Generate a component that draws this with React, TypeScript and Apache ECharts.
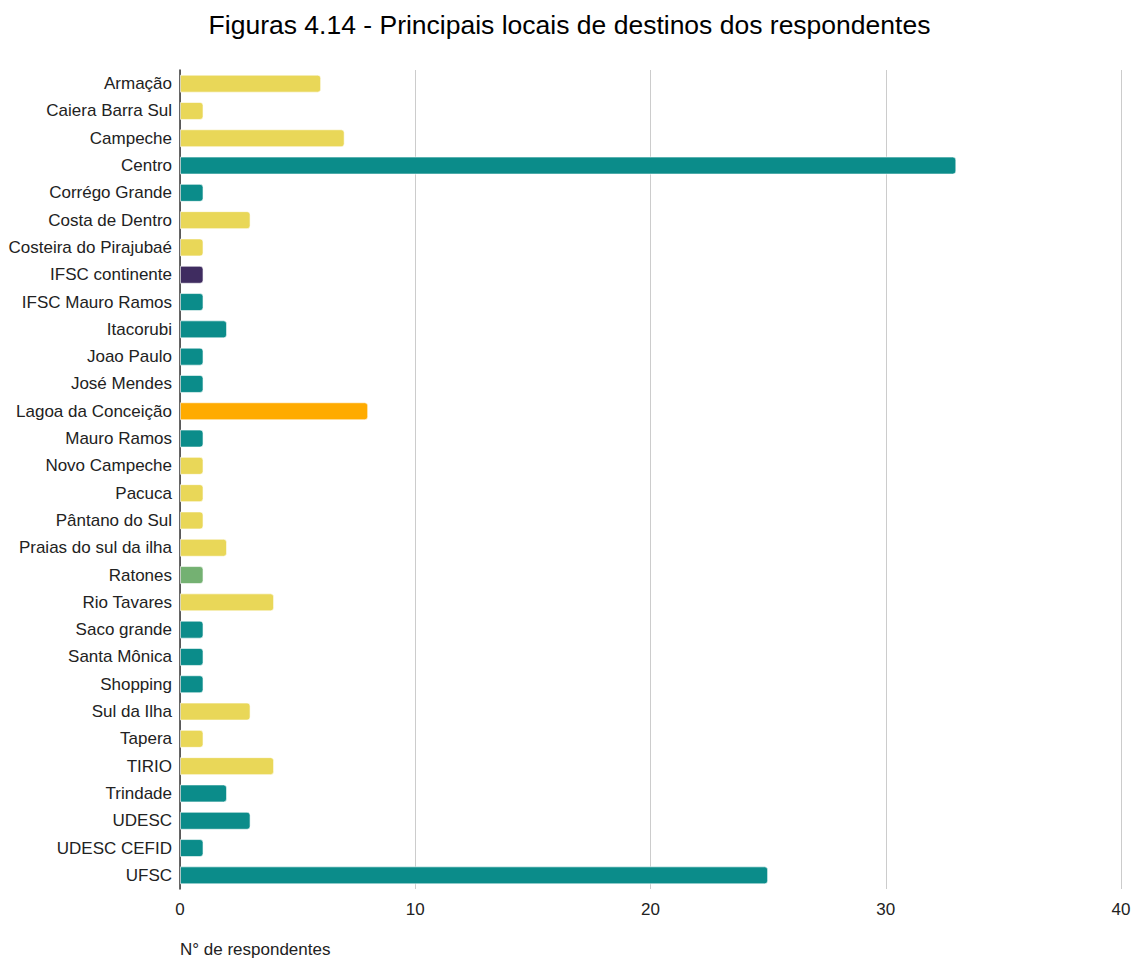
import React, { useEffect, useRef } from "react";
import * as echarts from "echarts";

const categories = [
  "Armação", "Caiera Barra Sul", "Campeche", "Centro", "Corrégo Grande", "Costa de Dentro",
  "Costeira do Pirajubaé", "IFSC continente", "IFSC Mauro Ramos", "Itacorubi", "Joao Paulo",
  "José Mendes", "Lagoa da Conceição", "Mauro Ramos", "Novo Campeche", "Pacuca", "Pântano do Sul",
  "Praias do sul da ilha", "Ratones", "Rio Tavares", "Saco grande", "Santa Mônica", "Shopping",
  "Sul da Ilha", "Tapera", "TIRIO", "Trindade", "UDESC", "UDESC CEFID", "UFSC",
];
const values = [6, 1, 7, 33, 1, 3, 1, 1, 1, 2, 1, 1, 8, 1, 1, 1, 1, 2, 1, 4, 1, 1, 1, 3, 1, 4, 2, 3, 1, 25];
// color group per category: y = yellow, t = teal, p = purple, o = orange, g = green
const groups = [
  "y", "y", "y", "t", "t", "y", "y", "p", "t", "t", "t", "t", "o", "t", "y", "y", "y", "y", "g", "y",
  "t", "t", "t", "y", "y", "y", "t", "t", "t", "t",
];
const palette: Record<string, string> = {
  y: "#E9D758",
  t: "#0B8C8A",
  p: "#3F2C60",
  o: "#FFAB00",
  g: "#74B172",
};
const xTicks = [0, 10, 20, 30, 40];

export default function App() {
  const ref = useRef<HTMLDivElement>(null);
  useEffect(() => {
    if (!ref.current) return;
    const chart = echarts.init(ref.current, undefined, { renderer: "svg" });
    const font = "'Liberation Sans', Arial, sans-serif";
    chart.setOption({
      animation: false,
      backgroundColor: "#ffffff",
      title: {
        text: "Figuras 4.14 - Principais locais de destinos dos respondentes",
        left: "center",
        top: 6,
        textStyle: { fontFamily: font, fontSize: 26.5, fontWeight: "normal", color: "#000" },
      },
      grid: { left: 180, right: 18, top: 70, bottom: 70, containLabel: false },
      xAxis: {
        type: "value",
        min: xTicks[0],
        max: xTicks[xTicks.length - 1],
        interval: 10,
        axisLine: { show: false },
        axisTick: { show: false },
        splitLine: { show: true, lineStyle: { color: "#cccccc", width: 1 } },
        axisLabel: { fontFamily: font, fontSize: 17, color: "#222", margin: 12 },
      },
      yAxis: {
        type: "category",
        inverse: true,
        data: categories,
        axisLine: { show: true, lineStyle: { color: "#333", width: 1.5 } },
        axisTick: { show: false },
        axisLabel: { fontFamily: font, fontSize: 17, color: "#222", margin: 8 },
      },
      graphic: [
        {
          type: "text",
          left: 180,
          top: 941,
          style: { text: "N° de respondentes", fontFamily: font, fontSize: 17, fill: "#222" },
        },
      ],
      series: [
        {
          type: "bar",
          barWidth: 18,
          data: values.map((v, i) => ({
            value: v,
            itemStyle: {
              color: palette[groups[i]],
              borderRadius: [0, 3, 3, 0],
              borderColor: "rgba(255,255,255,0.6)",
              borderWidth: 1,
            },
          })),
        },
      ],
    });
    return () => chart.dispose();
  }, []);
  return <div ref={ref} style={{ width: 1139, height: 959, position: "absolute", left: 0, top: 0 }} />;
}
